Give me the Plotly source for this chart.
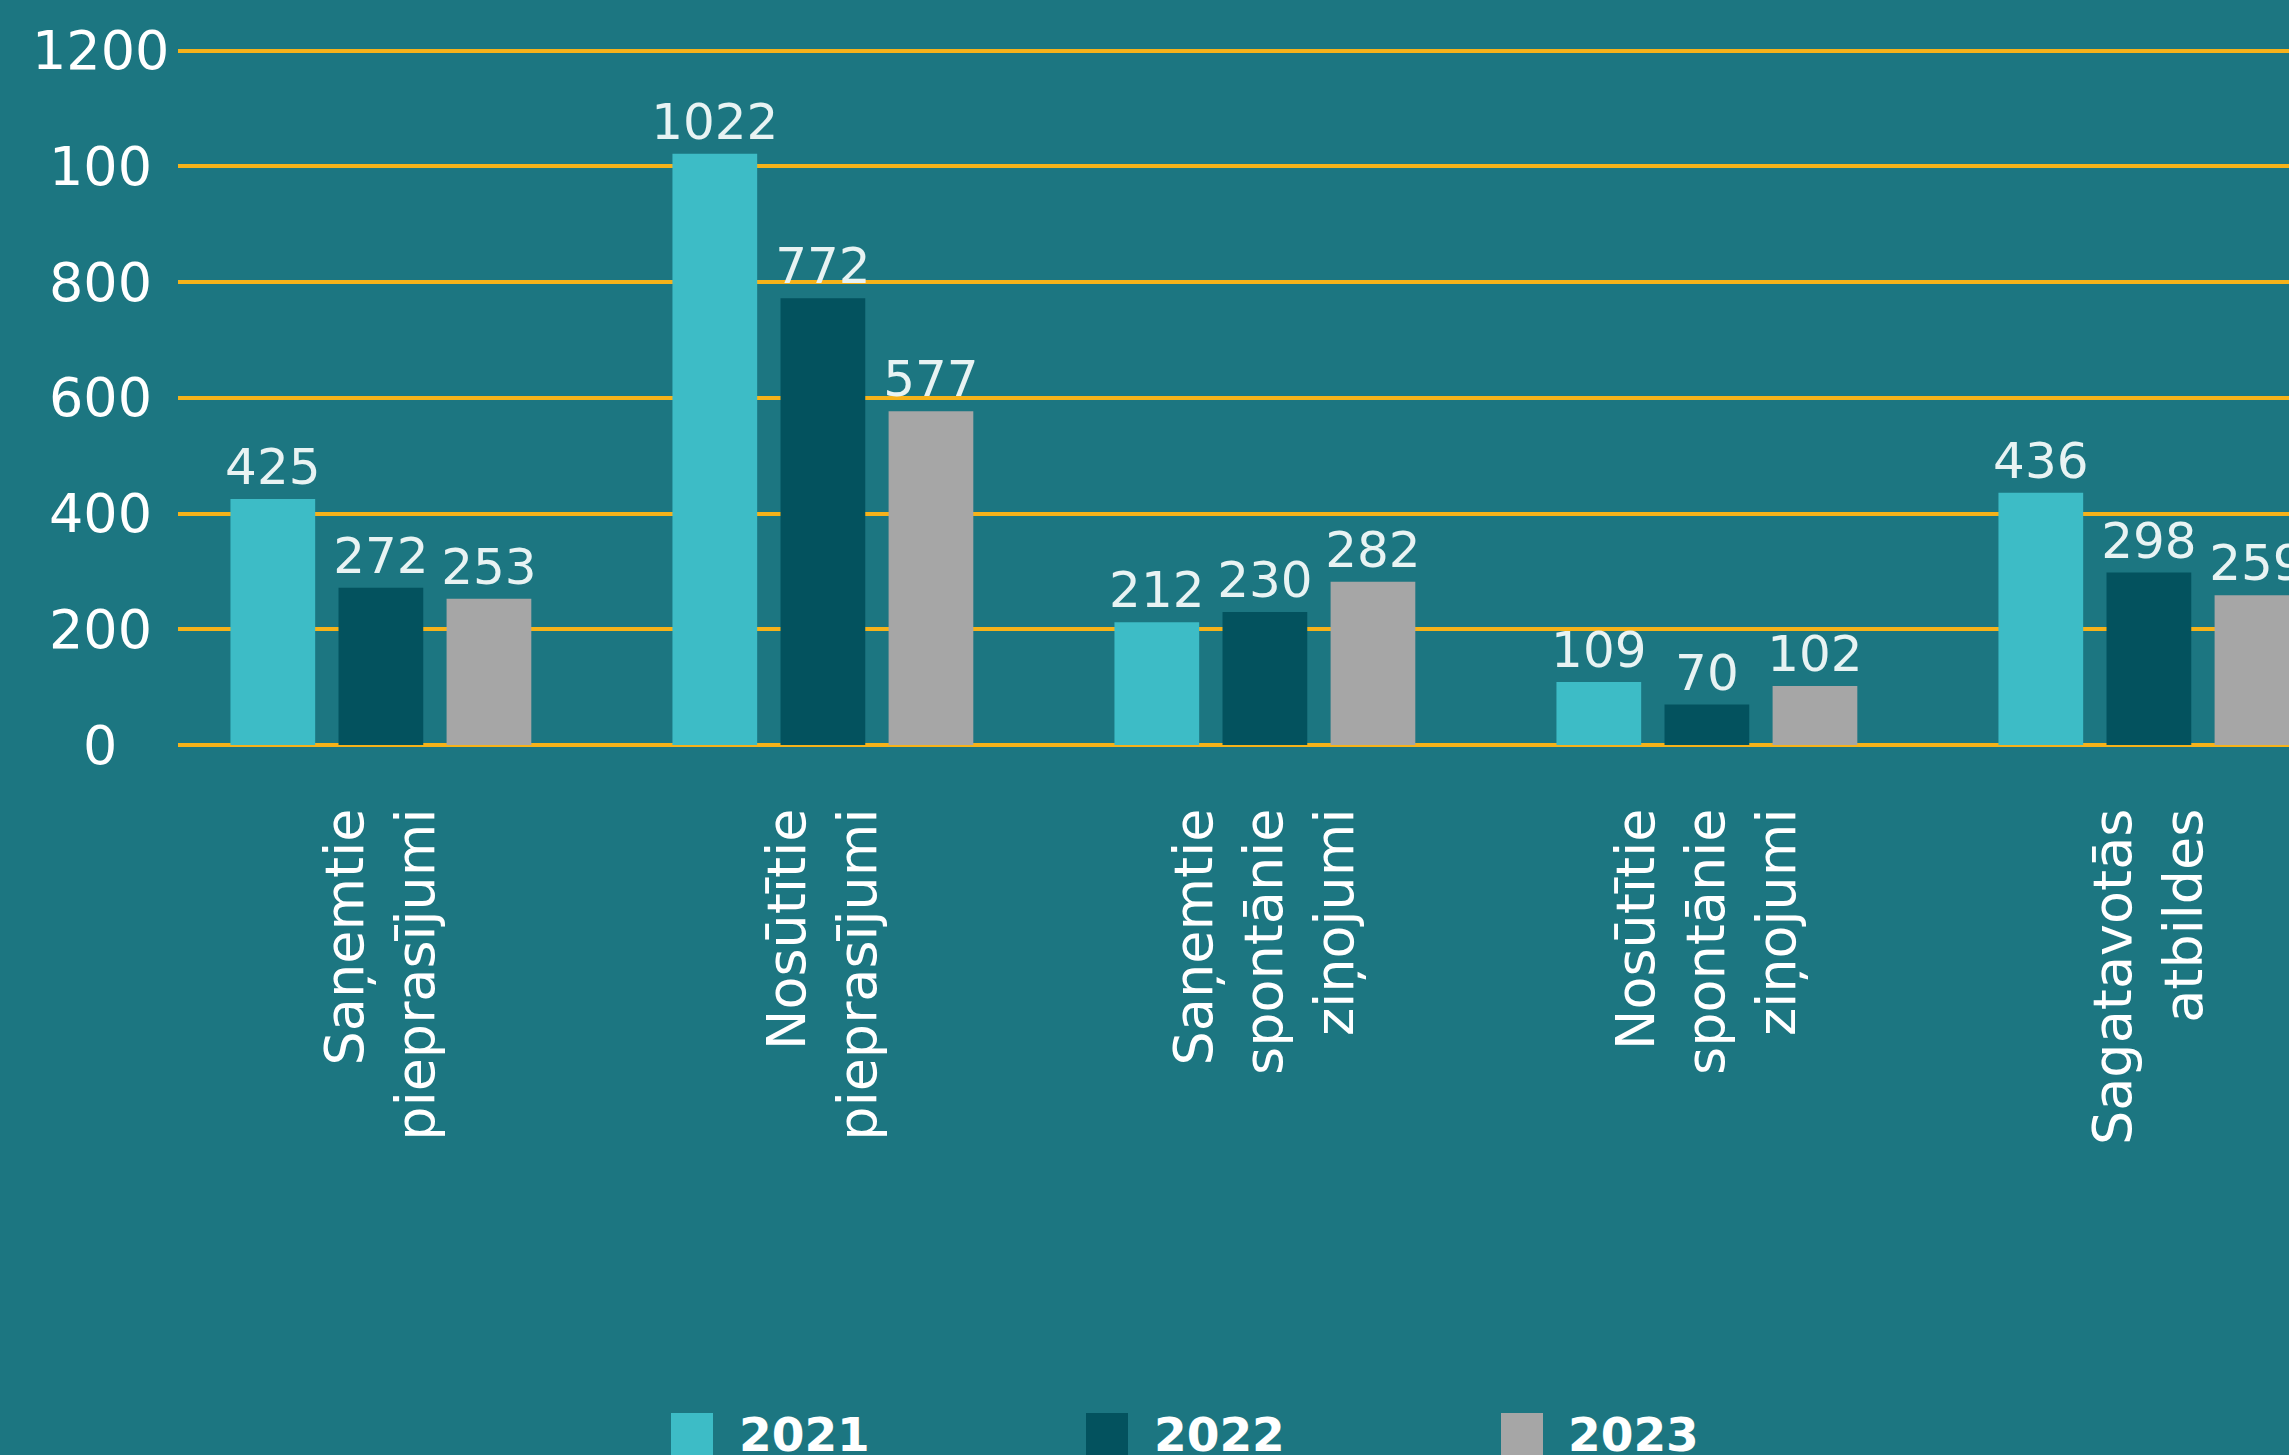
import plotly.graph_objects as go

categories = [
    "Saņemtie<br>pieprasījumi",
    "Nosūtītie<br>pieprasījumi",
    "Saņemtie<br>spontānie<br>ziņojumi",
    "Nosūtītie<br>spontānie<br>ziņojumi",
    "Sagatavotās<br>atbildes",
]
years = ["2021", "2022", "2023"]
values_2021 = [425, 1022, 212, 109, 436]
values_2022 = [272, 772, 230, 70, 298]
values_2023 = [253, 577, 282, 102, 259]
series = [values_2021, values_2022, values_2023]
colors = ["#3dbcc6", "#03525e", "#a6a6a6"]

ytick_vals = [1200, 1000, 800, 600, 400, 200, 0]
ytick_text = ["1200", "100", "800", "600", "400", "200", "0"]

W, H = 2289, 1455
L, T, B = 178, 49, 710
YMAX = 1203
BG = "#1c7681"
GRID = "#f6b21a"
FONT = "DejaVu Sans, Verdana, sans-serif"

def px_x(p):
    return (p - L) / (W - L)

def px_y(p):
    return ((H - B) - p) / ((H - B) - T)

fig = go.Figure()
idx = list(range(len(categories)))
for name, vals, col in zip(years, series, colors):
    fig.add_trace(go.Bar(
        x=idx, y=vals, name=name, marker=dict(color=col, line=dict(width=0)),
        text=[str(v) for v in vals], textposition="outside",
        textfont=dict(size=50, color="#e8f3f3", family=FONT),
        constraintext="none", cliponaxis=False, showlegend=False,
    ))

annotations = []
for v, t in zip(ytick_vals, ytick_text):
    annotations.append(dict(
        x=px_x(100), xref="paper", y=v, yref="y", text=t, showarrow=False,
        xanchor="center", yanchor="middle",
        font=dict(size=54, color="white", family=FONT),
    ))

shapes = []
legend_sw = [671, 1086, 1501]
legend_tx = [737, 1152, 1566]
for name, col, sx, tx in zip(years, colors, legend_sw, legend_tx):
    shapes.append(dict(
        type="rect", xref="paper", yref="paper",
        x0=px_x(sx), x1=px_x(sx + 42), y0=px_y(1413), y1=px_y(1460),
        fillcolor=col, line=dict(width=0), layer="above",
    ))
    annotations.append(dict(
        x=px_x(tx), xref="paper", y=px_y(1434), yref="paper", text="<b>" + name + "</b>",
        showarrow=False, xanchor="left", yanchor="middle",
        font=dict(size=47, color="white", family=FONT),
    ))

fig.update_layout(
    width=W, height=H,
    margin=dict(l=L, r=0, t=T, b=B, pad=0),
    paper_bgcolor=BG, plot_bgcolor=BG,
    barmode="group", bargap=0.2665, bargroupgap=0.216,
    font=dict(family=FONT, color="white"),
    xaxis=dict(
        tickmode="array", tickvals=idx, ticktext=categories,
        range=[-0.459, 4.317], tickangle=-90,
        tickfont=dict(size=54, color="white", family=FONT),
        ticks="outside", ticklen=41, tickcolor="rgba(0,0,0,0)",
        showgrid=False, zeroline=False, showline=False,
    ),
    yaxis=dict(
        range=[0, YMAX], tickvals=ytick_vals, showticklabels=False,
        showgrid=True, gridcolor=GRID, gridwidth=4,
        zeroline=True, zerolinecolor=GRID, zerolinewidth=4,
        showline=False,
    ),
    annotations=annotations, shapes=shapes,
)

fig.write_html("out.html", config={"displayModeBar": False},
               post_script="document.body.style.margin='0px';")
